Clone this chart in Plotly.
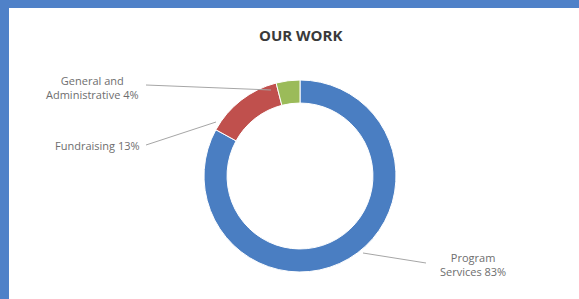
import plotly.graph_objects as go

categories = ["Program Services", "Fundraising", "General and Administrative"]
values = [83, 13, 4]
colors = ["#4A7EC2", "#C0504D", "#9BBB59"]
label_texts = ["Program<br>Services 83%", "Fundraising 13%", "General and<br>Administrative 4%"]

W, H = 579, 299

def px(x):
    return x / W

def py(y):
    return 1 - y / H

cx, cy, R = 300, 176, 96

fig = go.Figure(go.Pie(
    labels=categories,
    values=values,
    hole=0.76,
    sort=False,
    direction="clockwise",
    rotation=0,
    marker=dict(colors=colors, line=dict(color="white", width=1)),
    textinfo="none",
    hoverinfo="label+percent",
    showlegend=False,
    domain=dict(x=[px(cx - R), px(cx + R)], y=[py(cy + R), py(cy - R)]),
))

shapes = [
    dict(type="rect", xref="paper", yref="paper", x0=0, x1=px(9), y0=0, y1=1,
         fillcolor="#4F81C8", line=dict(width=0)),
    dict(type="rect", xref="paper", yref="paper", x0=0, x1=1, y0=py(8), y1=1,
         fillcolor="#4F81C8", line=dict(width=0)),
    # leader lines
    dict(type="line", xref="paper", yref="paper", x0=px(146), y0=py(85), x1=px(271), y1=py(90),
         line=dict(color="#A6A6A6", width=1)),
    dict(type="line", xref="paper", yref="paper", x0=px(146), y0=py(145), x1=px(216), y1=py(122),
         line=dict(color="#A6A6A6", width=1)),
    dict(type="line", xref="paper", yref="paper", x0=px(363), y0=py(253), x1=px(426), y1=py(263),
         line=dict(color="#A6A6A6", width=1)),
]

font_lbl = dict(family="Open Sans, sans-serif", size=11, color="#6E6E6E")
annotations = [
    dict(text="<b>OUR WORK</b>", x=px(300), y=py(35), xref="paper", yref="paper",
         showarrow=False, xanchor="center", yanchor="middle",
         font=dict(family="Open Sans, sans-serif", size=15, color="#3A3A3A")),
    dict(text=label_texts[2], x=px(92), y=py(87), xref="paper", yref="paper",
         showarrow=False, xanchor="center", yanchor="middle", align="center", font=font_lbl),
    dict(text=label_texts[1], x=px(97), y=py(145), xref="paper", yref="paper",
         showarrow=False, xanchor="center", yanchor="middle", align="center", font=font_lbl),
    dict(text=label_texts[0], x=px(473), y=py(264), xref="paper", yref="paper",
         showarrow=False, xanchor="center", yanchor="middle", align="center", font=font_lbl),
]

fig.update_layout(
    width=W, height=H,
    margin=dict(l=0, r=0, t=0, b=0),
    paper_bgcolor="white",
    plot_bgcolor="white",
    shapes=shapes,
    annotations=annotations,
)

fig.write_html("out.html", config={"displayModeBar": False},
               post_script="document.body.style.margin='0';document.body.style.overflow='hidden';")
